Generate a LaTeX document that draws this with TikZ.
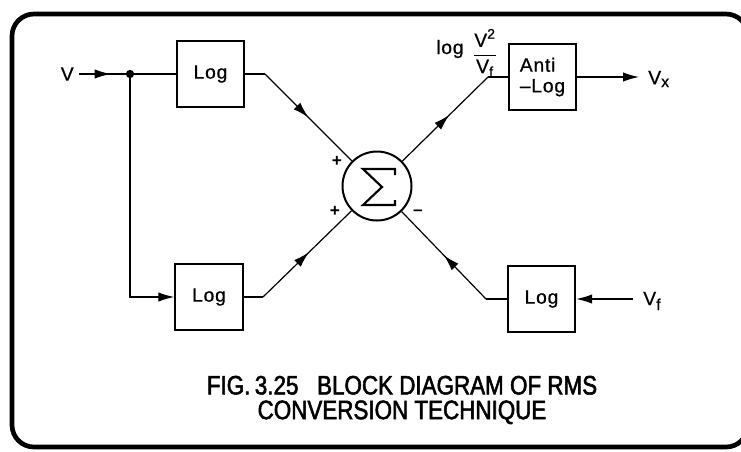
\documentclass[tikz,border=0pt]{standalone}
\usepackage{fontspec}
\setmainfont{Liberation Sans}
\newfontfamily\lblfont[LetterSpace=4,FakeBold=0.6]{Liberation Sans}
\newfontfamily\capfont[FakeStretch=0.84,FakeBold=2]{Liberation Sans}
\usetikzlibrary{arrows.meta,decorations.markings}

\begin{document}
\begin{tikzpicture}[x=0.75pt,y=-0.75pt,
  arr/.tip={Latex[length=12pt,width=7pt]},
  conn/.style={line width=0.9pt},
  block/.style={draw,line width=1.5pt,minimum width=50.5pt,minimum height=49.5pt,
    inner sep=0pt,align=left,font=\lblfont\fontsize{14.5}{15.5}\selectfont},
  lbl/.style={inner sep=0pt,font=\lblfont\fontsize{14.5}{15.5}\selectfont},
  sign/.style={inner sep=0pt,font=\bfseries\fontsize{13}{13}\selectfont},
  midarrow/.style={postaction={decorate},
    decoration={markings,mark=at position #1 with {\arrow{arr}}}}]

\useasboundingbox (0,0) rectangle (741,451);

% outer frame (its right side runs off the page)
\begin{scope}
  \clip (0,0) rectangle (741,451);
  \draw[line width=3.5pt,rounded corners=16.5pt] (12,14) rectangle (748,447);
\end{scope}

% blocks
\node[block] (log1) at (210.5,74) {Log};
\node[block] (log2) at (209,297) {Log};
\node[block] (anti) at (542.5,77) {Anti\\–Log};
\node[block] (log3) at (541.5,299) {Log};

% summing junction
\node[circle,draw,line width=1.5pt,minimum size=51.75pt,inner sep=0pt] (sum) at (377,186) {};
\begin{scope}[shift={(sum.center)}]
  \draw[line width=1.6pt,line join=miter]
    (18,-11) -- (18,-17) -- (-14,-17) -- (5,1) -- (-14,19) -- (18,19) -- (18,14);
\end{scope}

% branch point and bends
\node[circle,fill,inner sep=0pt,minimum size=6.2pt] (dot) at (130,74) {};
\coordinate (vin) at (79,74);
\coordinate (b1) at (265,74);
\coordinate (b2) at (263,297);
\coordinate (b3) at (488,77);
\coordinate (b4) at (486,299);
\coordinate (vxend) at (639,77);
\coordinate (vfstart) at (633,299);

% labels
\node[lbl,anchor=east] (vlbl) at (74,74) {V};
\node[lbl,anchor=west] (vxlbl) at (648,79) {V\textsubscript{\fontsize{12}{12}\selectfont x}};
\node[lbl,anchor=west] (vflbl) at (643,301) {V\textsubscript{\fontsize{12}{12}\selectfont f}};
\node[lbl,anchor=base west] (loglbl) at (436,54) {log};
\node[inner sep=0pt,font=\lblfont\fontsize{14.5}{15.5}\selectfont] (fraclbl) at (485,53)
  {$\displaystyle\frac{\mbox{V}^{\mbox{\fontsize{10.5}{11}\selectfont 2}}}{\mbox{V}_{\mbox{\fontsize{11}{11}\selectfont f}}}$};
\node[sign] (p1) at (337,161) {+};
\node[sign] (p2) at (335,211) {+};
\node[sign] (m1) at (418,213) {–};

% connectors
\draw[conn,midarrow=0.68] (vin) -- (dot);
\draw[conn] (dot) -- (log1);
\draw[conn,-arr] (dot) |- (log2);
\draw[conn] (log1) -- (b1);
\draw[conn,midarrow=0.50] (b1) -- (sum);
\draw[conn] (log2) -- (b2);
\draw[conn,midarrow=0.52] (b2) -- (sum);
\draw[conn,midarrow=0.55] (sum) -- (b3);
\draw[conn] (b3) -- (anti);
\draw[conn,-arr] (anti) -- (vxend);
\draw[conn,-arr] (vfstart) -- (log3);
\draw[conn] (log3) -- (b4);
\draw[conn,midarrow=0.50] (b4) -- (sum);

% caption
\node[align=center,inner sep=0pt,font=\capfont\fontsize{20}{18.5}\selectfont] (cap) at (402,400)
  {FIG.\,3.25\hspace{0.7em}BLOCK DIAGRAM OF RMS\\CONVERSION TECHNIQUE};
\end{tikzpicture}
\end{document}
